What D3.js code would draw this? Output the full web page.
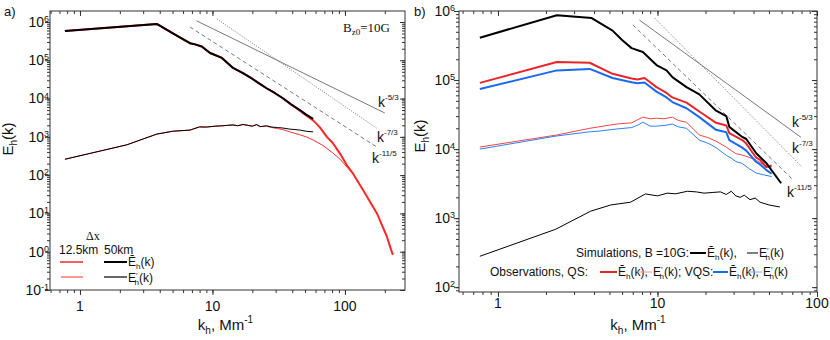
<!DOCTYPE html>
<html>
<head>
<meta charset="utf-8">
<script src="https://cdn.jsdelivr.net/npm/d3@7"></script>
<style>
body { margin: 0; background: #fff; }
text { font-family: "Liberation Sans", Arial, sans-serif; fill: #111; }
</style>
</head>
<body>
<script>
// ---- panel a) simulation, Bz0 = 10G, two resolutions ----
var kA50 = [0.77, 3.8, 4.5, 5.5, 6.76, 7.4, 8.3, 9.6, 11.8, 14.3, 17, 20.2, 22.5, 25.6, 29.5, 34, 39, 45.7, 51, 57.5];
var meanA50 = [5.8e5, 8.9e5, 6.3e5, 4.2e5, 2.8e5, 2.6e5, 2.3e5, 1.55e5, 1.15e5, 6.3e4, 4.6e4, 3.2e4, 2.5e4, 1.86e4, 1.4e4, 1.02e4, 7.2e3, 5.0e3, 3.8e3, 2.95e3];
var kA12 = [0.77, 3.8, 4.5, 5.5, 6.76, 7.4, 8.3, 9.6, 11.8, 14.3, 17, 20.2, 22.5, 25.6, 29.5, 34, 39, 45.7, 51, 57.5, 64.5, 73, 81, 92, 103.5, 114, 137, 155, 174.5, 190, 207, 220, 230];
var meanA12 = [5.8e5, 8.9e5, 6.3e5, 4.2e5, 2.8e5, 2.6e5, 2.3e5, 1.55e5, 1.15e5, 6.3e4, 4.6e4, 3.2e4, 2.5e4, 1.86e4, 1.4e4, 1.02e4, 7.0e3, 4.8e3, 3.6e3, 2.7e3, 1.8e3, 1.0e3, 6.9e2, 3.6e2, 1.8e2, 1.15e2, 41, 20, 10, 5, 2.5, 1.3, 0.83];
var kA50p = [0.77, 2.26, 3.8, 5.0, 6.76, 8.0, 9.0, 10.5, 12, 13, 14.3, 15.5, 17, 18.5, 20, 21.5, 23, 25.6, 28, 31, 34, 38, 42, 46, 51, 57.5];
var primeA50 = [2.6e2, 6.2e2, 1.18e3, 1.4e3, 1.5e3, 1.82e3, 1.8e3, 1.9e3, 1.95e3, 2.0e3, 2.05e3, 1.95e3, 2.1e3, 2.0e3, 1.9e3, 2.1e3, 1.85e3, 1.95e3, 1.8e3, 1.75e3, 1.7e3, 1.6e3, 1.55e3, 1.5e3, 1.4e3, 1.35e3];
var kA12p = [0.77, 2.26, 3.8, 5.0, 6.76, 8.0, 9.0, 10.5, 12, 13, 14.3, 15.5, 17, 18.5, 20, 21.5, 23, 25.6, 28, 31, 34, 38.4, 45, 51, 57.5, 68, 81, 92, 103.5, 114];
var primeA12 = [2.6e2, 6.2e2, 1.18e3, 1.4e3, 1.5e3, 1.82e3, 1.8e3, 1.9e3, 1.95e3, 2.0e3, 2.05e3, 1.95e3, 2.1e3, 2.0e3, 1.9e3, 2.05e3, 1.85e3, 1.9e3, 1.75e3, 1.65e3, 1.55e3, 1.35e3, 1.15e3, 1.0e3, 8.3e2, 6.0e2, 3.8e2, 2.6e2, 1.62e2, 1.15e2];

// ---- panel b) simulation vs observations ----
var kSimB = [0.77, 2.34, 3.87, 5.23, 6.0, 6.88, 8.1, 9.86, 11.4, 12.4, 15.2, 18.3, 23.3, 27, 28.2, 34, 36, 41.6, 48, 59.6];
var meanSimB = [4.1e5, 8.7e5, 7.9e5, 5.2e5, 3.8e5, 2.9e5, 2.55e5, 1.65e5, 1.38e5, 1.1e5, 7.9e4, 6.2e4, 3.6e4, 3.0e4, 2.1e4, 1.5e4, 1.4e4, 8.7e3, 6.3e3, 3.2e3];
var kSimBp = [0.77, 2.30, 3.81, 5.09, 6.78, 8.4, 10.0, 11.5, 13, 15.4, 17.5, 19.6, 22, 24.8, 27, 29, 31, 33, 35, 38, 41, 44, 50, 58.5];
var primeSimB = [2.8e2, 6.9e2, 1.26e3, 1.55e3, 1.7e3, 2.24e3, 2.1e3, 2.3e3, 2.25e3, 2.45e3, 2.4e3, 2.3e3, 2.35e3, 2.4e3, 2.2e3, 2.45e3, 2.1e3, 2.0e3, 2.15e3, 1.85e3, 1.95e3, 1.7e3, 1.55e3, 1.45e3];
var kObs = [0.77, 2.34, 3.76, 5.23, 6.88, 7.5, 8.3, 9.86, 11.4, 12.4, 15.2, 18.3, 23.3, 27, 28.2, 34, 36, 41.6, 44, 48, 52];
var meanQS = [9.1e4, 1.82e5, 1.78e5, 1.23e5, 1.05e5, 1.02e5, 1.07e5, 7.9e4, 6.5e4, 5.6e4, 4.7e4, 3.5e4, 2.4e4, 2.2e4, 1.7e4, 1.35e4, 1.2e4, 7.5e3, 7.0e3, 5.5e3, 5.8e3];
var meanVQS = [7.4e4, 1.38e5, 1.45e5, 1.07e5, 9.3e4, 9.0e4, 9.2e4, 6.8e4, 5.6e4, 4.8e4, 3.9e4, 2.9e4, 1.9e4, 1.75e4, 1.35e4, 1.05e4, 9.5e3, 6.5e3, 6.0e3, 5.0e3, 4.4e3];
var kObsP = [0.77, 2.34, 3.76, 4.3, 5.5, 6.9, 7.6, 8.1, 9.0, 9.86, 11, 12.4, 13.5, 15.2, 18.3, 21, 23.3, 27, 29, 31, 34, 37.6, 41.6, 47, 52];
var primeQS = [1.07e4, 1.6e4, 2.0e4, 2.1e4, 2.3e4, 2.4e4, 2.7e4, 2.9e4, 2.75e4, 2.8e4, 2.75e4, 2.9e4, 2.6e4, 2.45e4, 1.6e4, 1.45e4, 1.3e4, 1.07e4, 9.5e3, 8.6e3, 8.2e3, 7.6e3, 6.9e3, 5.8e3, 5.5e3];
var primeVQS = [1.0e4, 1.55e4, 1.78e4, 1.82e4, 1.95e4, 2.05e4, 2.25e4, 2.45e4, 2.15e4, 2.15e4, 2.2e4, 2.3e4, 2.1e4, 2.0e4, 1.35e4, 1.2e4, 1.05e4, 8.1e3, 7.4e3, 6.6e3, 6.2e3, 5.2e3, 4.5e3, 4.2e3, 4.0e3];

// power-law guides: [k0, k1], [E0, E1]
var guideA = [
  {k: [7.6, 200], e: [1.07e6, 4.2e3], dash: null, label: "-5/3"},
  {k: [10.8, 173], e: [1.2e6, 1.7e3], dash: "1,1.5", label: "-7/3"},
  {k: [6.76, 173], e: [7.4e5, 5.5e2], dash: "4,3", label: "-11/5"}
];
var guideB = [
  {k: [7.7, 79.4], e: [7.4e5, 1.48e4], dash: null, label: "-5/3"},
  {k: [9.6, 80.6], e: [7.9e5, 5.5e3], dash: "1,1.5", label: "-7/3"},
  {k: [7.0, 71.6], e: [6.3e5, 3.5e3], dash: "4,3", label: "-11/5"}
];

var xMajorA = [1, 10, 100], yMajorA = [1e-1, 1e0, 1e1, 1e2, 1e3, 1e4, 1e5, 1e6];
var xMajorB = [1, 10, 100], yMajorB = [1e2, 1e3, 1e4, 1e5, 1e6];

var svg = d3.select("body").append("svg")
    .attr("width", 830).attr("height", 340)
    .style("display", "block");

function makePanel(left, top, w, h, xDom, yDom) {
  var g = svg.append("g").attr("transform", "translate(" + left + "," + top + ")");
  var x = d3.scaleLog().domain(xDom).range([0, w]);
  var y = d3.scaleLog().domain(yDom).range([h, 0]);
  return {g: g, x: x, y: y, w: w, h: h};
}

function minorOf(dom) {
  var out = [];
  for (var e = Math.floor(Math.log10(dom[0])) - 1; e <= Math.ceil(Math.log10(dom[1])); e++) {
    for (var m = 1; m < 10; m++) {
      var v = m * Math.pow(10, e);
      if (v >= dom[0] * 0.999 && v <= dom[1] * 1.001) out.push(v);
    }
  }
  return out;
}

function drawAxes(p, xMaj, yMaj, o) {
  var g = p.g;
  var xm = minorOf(p.x.domain()), ym = minorOf(p.y.domain());
  var axes = [
    [d3.axisBottom(p.x).tickValues(xm).tickSize(3), "translate(0," + p.h + ")"],
    [d3.axisBottom(p.x).tickValues(xMaj).tickSize(5), "translate(0," + p.h + ")"],
    [d3.axisTop(p.x).tickValues(xm).tickSize(-3), null],
    [d3.axisTop(p.x).tickValues(xMaj).tickSize(-5), null],
    [d3.axisLeft(p.y).tickValues(ym).tickSize(3), null],
    [d3.axisLeft(p.y).tickValues(yMaj).tickSize(5), null],
    [d3.axisRight(p.y).tickValues(ym).tickSize(-3), "translate(" + p.w + ",0)"],
    [d3.axisRight(p.y).tickValues(yMaj).tickSize(-5), "translate(" + p.w + ",0)"]
  ];
  axes.forEach(function(a) {
    var ag = g.append("g");
    if (a[1]) ag.attr("transform", a[1]);
    ag.call(a[0].tickFormat(""));
    ag.select(".domain").remove();
    ag.selectAll("line").attr("stroke", "#333");
  });
  g.append("rect").attr("width", p.w).attr("height", p.h)
      .attr("fill", "none").attr("stroke", "#333").attr("stroke-width", 1);

  g.selectAll(".xlab").data(xMaj).enter().append("text")
      .attr("x", function(d) { return p.x(d); })
      .attr("y", p.h + o.xLabY)
      .attr("text-anchor", "middle")
      .style("font-size", o.tickFont + "px")
      .text(function(d) { return d; });

  yMaj.forEach(function(d) {
    var t = g.append("text")
        .attr("x", o.yLabX).attr("y", p.y(d))
        .attr("dy", "0.35em")
        .attr("text-anchor", "end")
        .style("font-size", o.tickFont + "px")
        .text("10");
    t.append("tspan").attr("dy", "-0.55em").style("font-size", "9px")
        .text(Math.round(Math.log10(d)));
  });

  // axis titles
  var yt = g.append("text")
      .attr("transform", "translate(" + o.yTitleX + "," + o.yTitleY + ") rotate(-90)")
      .attr("text-anchor", "middle")
      .style("font-size", "15px")
      .text("E");
  yt.append("tspan").attr("dy", 4).style("font-size", "10px").text("h");
  yt.append("tspan").attr("dy", -4).text("(k)");

  var xt = g.append("text")
      .attr("x", p.w / 2 + o.xTitleDx).attr("y", p.h + o.xTitleY)
      .attr("text-anchor", "middle")
      .style("font-size", "15px")
      .text("k");
  xt.append("tspan").attr("dy", 4).style("font-size", "10px").text("h");
  xt.append("tspan").attr("dy", -4).text(", Mm");
  xt.append("tspan").attr("dy", -7).style("font-size", "10px").text("-1");
}

function series(p, ks, es, color, width) {
  var pts = ks.map(function(k, i) { return [k, es[i]]; });
  p.g.append("path")
      .datum(pts)
      .attr("fill", "none")
      .attr("stroke", color)
      .attr("stroke-width", width)
      .attr("stroke-linejoin", "round")
      .attr("d", d3.line().x(function(d) { return p.x(d[0]); }).y(function(d) { return p.y(d[1]); }));
}

function guides(p, list) {
  list.forEach(function(gd) {
    var l = p.g.append("line")
        .attr("x1", p.x(gd.k[0])).attr("y1", p.y(gd.e[0]))
        .attr("x2", p.x(gd.k[1])).attr("y2", p.y(gd.e[1]))
        .attr("stroke", "#555").attr("stroke-width", 0.8);
    if (gd.dash) l.attr("stroke-dasharray", gd.dash);
  });
}

function kLabel(g, x, y, exp) {
  var t = g.append("text").attr("x", x).attr("y", y).style("font-size", "14px").text("k");
  t.append("tspan").attr("dy", -7).style("font-size", "8px").text(exp);
}

function eLabel(g, x, y, bar, prime, size) {
  var t = g.append("text").attr("x", x).attr("y", y).style("font-size", size + "px")
      .text(bar ? "\u0112" : "E");
  if (prime) {
    t.append("tspan").attr("dy", -4).style("font-size", "8px").text("\u2032");
    t.append("tspan").attr("dx", -3).attr("dy", 7).style("font-size", "8px").text("h");
  } else {
    t.append("tspan").attr("dy", 3).style("font-size", "8px").text("h");
  }
  t.append("tspan").attr("dy", -3).text("(k)");
  return t;
}

function legLine(g, x1, x2, y, color, w) {
  g.append("line").attr("x1", x1).attr("x2", x2).attr("y1", y).attr("y2", y)
      .attr("stroke", color).attr("stroke-width", w);
}

// ================= panel a =================
var pa = makePanel(50, 11, 355, 279, [0.594, 284], [1e-1, Math.pow(10, 6.287)]);
drawAxes(pa, xMajorA, yMajorA, {xLabY: 21, tickFont: 14, yLabX: -1, yTitleX: -37, yTitleY: 128, xTitleDx: -2, xTitleY: 40});
guides(pa, guideA);
series(pa, kA12, meanA12, "#ff2626", 2);
series(pa, kA12p, primeA12, "#ff3030", 1);
series(pa, kA50, meanA50, "#000", 2);
series(pa, kA50p, primeA50, "#000", 1);

svg.append("text").attr("x", 4).attr("y", 16).style("font-size", "13px").text("a)");
var bz = svg.append("text").attr("x", 343).attr("y", 32)
    .style("font-family", "'Liberation Serif', 'Times New Roman', serif").style("font-size", "13px").text("B");
bz.append("tspan").attr("dy", 3).style("font-size", "9px").text("z0");
bz.append("tspan").attr("dy", -3).text("=10G");

kLabel(svg, 378, 107, "-5/3");
kLabel(svg, 377, 142, "-7/3");
kLabel(svg, 372, 163, "-11/5");

// legend a
svg.append("text").attr("x", 86).attr("y", 240)
    .style("font-family", "'Liberation Serif', serif").style("font-size", "12px").text("\u0394x");
svg.append("text").attr("x", 59).attr("y", 254).style("font-size", "12px").text("12.5km");
svg.append("text").attr("x", 104).attr("y", 254).style("font-size", "12px").text("50km");
legLine(svg, 60, 83, 262, "#ff2626", 1.5);
legLine(svg, 104, 127, 262, "#000", 2);
eLabel(svg, 128, 266, true, false, 12);
legLine(svg, 61, 83, 277, "#ff3030", 1);
legLine(svg, 104, 127, 277, "#666", 2);
eLabel(svg, 128, 282, false, true, 12);

// ================= panel b =================
var pb = makePanel(459, 11, 358, 281, [0.57, 100], [Math.pow(10, 1.93), 1e6]);
drawAxes(pb, xMajorB, yMajorB, {xLabY: 16, tickFont: 14, yLabX: -4, yTitleX: -34, yTitleY: 125, xTitleDx: 0, xTitleY: 38});
guides(pb, guideB);
series(pb, kObsP, primeQS, "#f04646", 1);
series(pb, kObsP, primeVQS, "#2f7ff5", 1);
series(pb, kObs, meanQS, "#e8262a", 2);
series(pb, kObs, meanVQS, "#1a6af0", 2);
series(pb, kSimB, meanSimB, "#000", 2);
series(pb, kSimBp, primeSimB, "#000", 1);

svg.append("text").attr("x", 414).attr("y", 16).style("font-size", "13px").text("b)");
kLabel(svg, 792, 127, "-5/3");
kLabel(svg, 792, 153, "-7/3");
kLabel(svg, 787, 197, "-11/5");

// legend b
svg.append("text").attr("x", 576).attr("y", 257).style("font-size", "12px").text("Simulations, B =10G:");
legLine(svg, 690, 706, 253, "#000", 2);
eLabel(svg, 707, 257, true, false, 12).append("tspan").text(",");
legLine(svg, 747, 758, 253, "#000", 1);
eLabel(svg, 759, 257, false, true, 12);

svg.append("text").attr("x", 490).attr("y", 276).style("font-size", "12px").text("Observations, QS:");
legLine(svg, 600, 617, 272, "#e8262a", 2);
eLabel(svg, 618, 276, true, false, 12).append("tspan").text(",");
legLine(svg, 637, 652, 272, "#f29090", 1);
eLabel(svg, 653, 276, false, true, 12).append("tspan").text("; VQS:");
legLine(svg, 713, 728, 272, "#1a6af0", 2);
eLabel(svg, 729, 276, true, false, 12).append("tspan").text(",");
legLine(svg, 748, 762, 272, "#7fb0ff", 1);
eLabel(svg, 763, 276, false, true, 12);
</script>
</body>
</html>
